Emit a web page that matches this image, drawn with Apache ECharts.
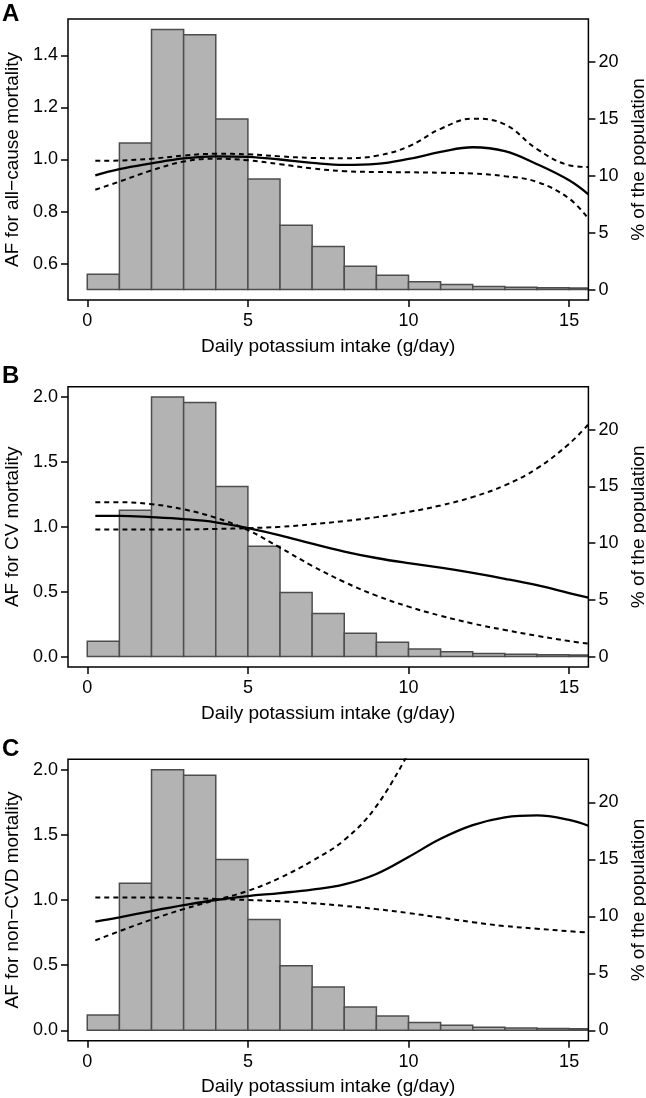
<!DOCTYPE html>
<html><head><meta charset="utf-8">
<script src="https://cdn.jsdelivr.net/npm/echarts@6/dist/echarts.min.js"></script>
<style>html,body{margin:0;padding:0;background:#fff}#c{width:646px;height:1098px}</style>
</head><body><div id="c"></div>
<script>
// ---- data ----
const binEdges = [0,1,2,3,4,5,6,7,8,9,10,11,12,13,14,15,16];
const popPct   = [1.35,12.9,22.88,22.4,15.0,9.73,5.66,3.8,2.05,1.26,0.68,0.44,0.27,0.2,0.16,0.14];

const xs = [0.25,1,2,3,4,5,6,7,8,9,10,11,12,13,14,15,15.6];
// Panel A: all-cause mortality
const allFit = [0.939,0.963,0.985,1.004,1.012,1.01,1.0,0.987,0.979,0.983,1.002,1.029,1.047,1.032,0.982,0.92,0.866];
const allUp  = [0.995,0.996,1.003,1.015,1.022,1.02,1.012,1.006,1.005,1.014,1.05,1.118,1.157,1.135,1.04,0.978,0.971];
const allLo  = [0.884,0.915,0.958,0.992,1.003,0.997,0.982,0.966,0.955,0.952,0.951,0.949,0.946,0.936,0.914,0.85,0.772];
// Panel B: CV mortality
const cvFit  = [1.085,1.085,1.075,1.06,1.035,0.99,0.935,0.87,0.81,0.76,0.72,0.685,0.645,0.6,0.55,0.49,0.455];
const cvB1   = [1.19,1.19,1.175,1.135,1.07,0.975,0.84,0.7,0.575,0.47,0.385,0.315,0.255,0.205,0.16,0.12,0.1];
const cvB2   = [0.98,0.98,0.98,0.98,0.984,0.99,1.0,1.02,1.045,1.075,1.115,1.165,1.23,1.32,1.45,1.64,1.79];
// Panel C: non-CVD mortality
const ncFit  = [0.834,0.867,0.915,0.96,1.0,1.03,1.053,1.08,1.12,1.2,1.33,1.47,1.575,1.635,1.65,1.615,1.57];
const ncUp   = [0.69,0.76,0.85,0.93,1.0,1.07,1.17,1.3,1.46,1.72,2.13,null,null,null,null,null,null];
const ncLo   = [1.02,1.02,1.02,1.015,1.008,1.0,0.99,0.975,0.955,0.93,0.9,0.865,0.83,0.8,0.78,0.76,0.75];

const xTicks = [0,5,10,15];
const leftTicksA = [0.6,0.8,1.0,1.2,1.4];
const leftTicksBC = [0.0,0.5,1.0,1.5,2.0];
const rightTicks = [0,5,10,15,20];
const panelLetters = ['A','B','C'];
const leftNames = ['AF for all\u2212cause mortality','AF for CV mortality','AF for non\u2212CVD mortality'];
const rightName = '% of the population';
const xName = 'Daily potassium intake (g/day)';

// ---- layout ----
const FONT = '"Liberation Sans", Arial, Helvetica, sans-serif';
const panels = [
  {top:19,    height:281,   yMin:0.46, yMax:1.54, ticks:leftTicksA, fit:allFit, d1:allUp, d2:allLo, letterTop:2},
  {top:386.7, height:280.3, yMin:-0.08, yMax:2.08, ticks:leftTicksBC, fit:cvFit, d1:cvB1, d2:cvB2, letterTop:364},
  {top:759.3, height:281.4, yMin:-0.08, yMax:2.08, ticks:leftTicksBC, fit:ncFit, d1:ncUp, d2:ncLo, letterTop:737}
];
const RMIN = -0.915, RMAX = 23.795;

const grids=[], xAxes=[], yAxes=[], series=[], titles=[];
const toPts = arr => xs.map((x,j)=>[x,arr[j]]).filter(p=>p[1]!==null);
const histData = popPct.map((v,i)=>[binEdges[i],binEdges[i+1],v]);

panels.forEach((p,i)=>{
  grids.push({left:68, width:520.4, top:p.top, height:p.height, show:true, z:5,
    backgroundColor:'transparent', borderColor:'#000', borderWidth:1.5,
    containLabel:false, outerBoundsMode:'none'});
  xAxes.push({type:'value', gridIndex:i, position:'bottom', min:-0.6, max:15.6,
    axisLine:{show:false, onZero:false}, splitLine:{show:false},
    axisTick:{show:true, inside:false, length:7, customValues:xTicks, lineStyle:{color:'#000', width:1.5}},
    axisLabel:{show:true, margin:12, customValues:xTicks, color:'#000', fontSize:18, fontFamily:FONT},
    name:xName, nameLocation:'middle', nameGap:37,
    nameTextStyle:{color:'#000', fontSize:19, fontFamily:FONT}});
  yAxes.push({type:'value', gridIndex:i, position:'left', min:p.yMin, max:p.yMax,
    axisLine:{show:false, onZero:false}, splitLine:{show:false},
    axisTick:{show:true, inside:false, length:7, customValues:p.ticks, lineStyle:{color:'#000', width:1.5}},
    axisLabel:{show:true, margin:10, customValues:p.ticks, color:'#000', fontSize:18, fontFamily:FONT,
      formatter:v=>Number(v).toFixed(1)},
    name:leftNames[i], nameLocation:'middle', nameRotate:90, nameGap:44,
    nameTextStyle:{color:'#000', fontSize:19, fontFamily:FONT}});
  yAxes.push({type:'value', gridIndex:i, position:'right', min:RMIN, max:RMAX,
    axisLine:{show:false, onZero:false}, splitLine:{show:false},
    axisTick:{show:true, inside:false, length:7, customValues:rightTicks, lineStyle:{color:'#000', width:1.5}},
    axisLabel:{show:true, margin:10, customValues:rightTicks, color:'#000', fontSize:18, fontFamily:FONT,
      formatter:v=>String(Math.round(v))},
    name:rightName, nameLocation:'middle', nameRotate:90, nameGap:35,
    nameTextStyle:{color:'#000', fontSize:19, fontFamily:FONT}});
  titles.push({text:panelLetters[i], left:2, top:p.letterTop, padding:0,
    textStyle:{fontSize:24, fontWeight:'bold', color:'#000', fontFamily:FONT}});

  series.push({type:'custom', xAxisIndex:i, yAxisIndex:2*i+1, clip:true, z:1,
    data:histData, encode:{x:[0,1], y:2},
    renderItem:(params, api)=>{
      const a = api.coord([api.value(0), 0]);
      const b = api.coord([api.value(1), api.value(2)]);
      return {type:'rect', shape:{x:a[0], y:b[1], width:b[0]-a[0], height:a[1]-b[1]},
        style:{fill:'#b3b3b3', stroke:'#4d4d4d', lineWidth:1.5}};
    }});
  series.push({type:'line', xAxisIndex:i, yAxisIndex:2*i, data:toPts(p.fit), smooth:0.4,
    showSymbol:false, clip:true, z:3, lineStyle:{color:'#000', width:2.3}});
  [p.d1,p.d2].forEach(d=>series.push({type:'line', xAxisIndex:i, yAxisIndex:2*i, data:toPts(d), smooth:0.4,
    showSymbol:false, clip:true, z:3, lineStyle:{color:'#000', width:2, type:[5,4]}}));
});

const chart = echarts.init(document.getElementById('c'), null, {renderer:'canvas'});
chart.setOption({animation:false, backgroundColor:'#fff', title:titles, grid:grids,
  xAxis:xAxes, yAxis:yAxes, series:series});
</script></body></html>
